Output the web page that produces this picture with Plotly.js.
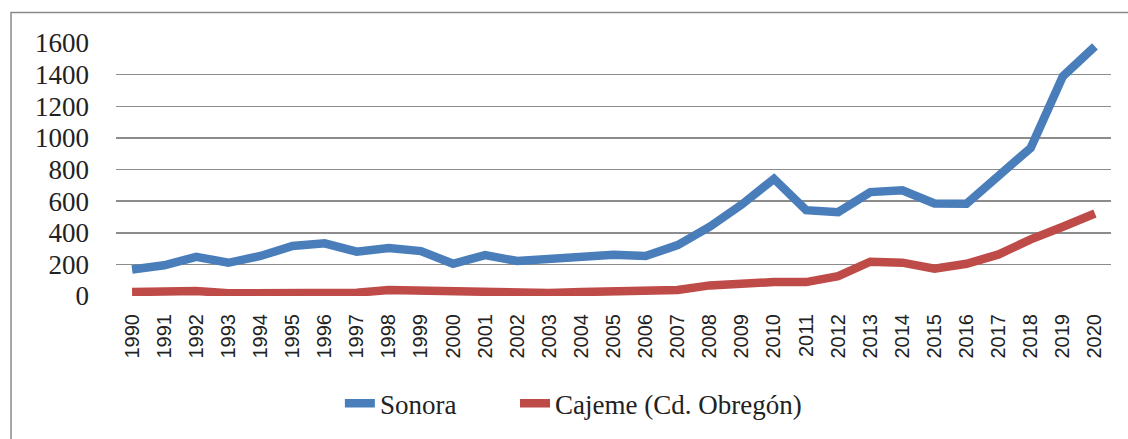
<!DOCTYPE html>
<html>
<head>
<meta charset="utf-8">
<script src="https://cdn.plot.ly/plotly-3.0.1.min.js"></script>
<style>html,body{margin:0;padding:0;background:#fff;}#chart{width:1128px;height:439px;}</style>
</head>
<body>
<div id="chart"></div>
<script>
const years = ["1990","1991","1992","1993","1994","1995","1996","1997","1998","1999","2000","2001","2002","2003","2004","2005","2006","2007","2008","2009","2010","2011","2012","2013","2014","2015","2016","2017","2018","2019","2020"];
const sonora = [168,194,248,210,253,316,333,280,303,284,204,259,221,236,253,261,253,322,438,579,741,543,530,657,669,585,583,768,937,1389,1579];
const cajeme = [25,34,32,17,19,23,27,21,38,34,21,29,23,19,25,32,42,38,67,84,88,88,126,217,211,173,204,263,358,438,522];
const seriesNames = ["Sonora","Cajeme (Cd. Obregón)"];
const yTicks = [0,200,400,600,800,1000,1200,1400,1600];

const traces = [
  {x: years, y: sonora, name: seriesNames[0], type: "scatter", mode: "lines",
   legend: "legend", line: {color: "#4A7EBB", width: 8.5}},
  {x: years, y: cajeme, name: seriesNames[1], type: "scatter", mode: "lines",
   legend: "legend2", line: {color: "#BE4B48", width: 8.5}}
];

const legendFont = {family: "Liberation Serif", size: 27, color: "#222"};

const layout = {
  width: 1128, height: 439,
  margin: {l: 116, r: 17, t: 43, b: 142},
  paper_bgcolor: "#fff", plot_bgcolor: "#fff",
  showlegend: true,
  legend: {orientation: "h", x: 0.225, xanchor: "left", y: -0.42, yanchor: "middle",
           font: legendFont, itemwidth: 30},
  legend2: {orientation: "h", x: 0.401, xanchor: "left", y: -0.42, yanchor: "middle",
           font: legendFont, itemwidth: 30},
  xaxis: {type: "category", range: [-0.5, years.length - 0.5], tickangle: -90,
          showgrid: false, zeroline: false, showline: false, ticks: "",
          ticklabelstandoff: 13,
          tickfont: {family: "Liberation Sans", size: 20, color: "#222"}},
  yaxis: {range: [0, 1600], tickvals: yTicks, ticktext: yTicks.map(String),
          showgrid: true, gridcolor: "#8c8c8c", gridwidth: 1.5, zeroline: false,
          showline: false, ticks: "", ticklabelstandoff: 26,
          tickfont: {family: "Liberation Serif", size: 27, color: "#222"}},
  shapes: [
    {type: "rect", xref: "paper", yref: "paper", x0: -0.1055, x1: 1.02, y0: -0.58, y1: 1.1206,
     line: {color: "#8a8a8a", width: 1.5}, fillcolor: "rgba(0,0,0,0)", layer: "below"}
  ]
};

Plotly.newPlot("chart", traces, layout, {staticPlot: true, displayModeBar: false});
</script>
</body>
</html>
